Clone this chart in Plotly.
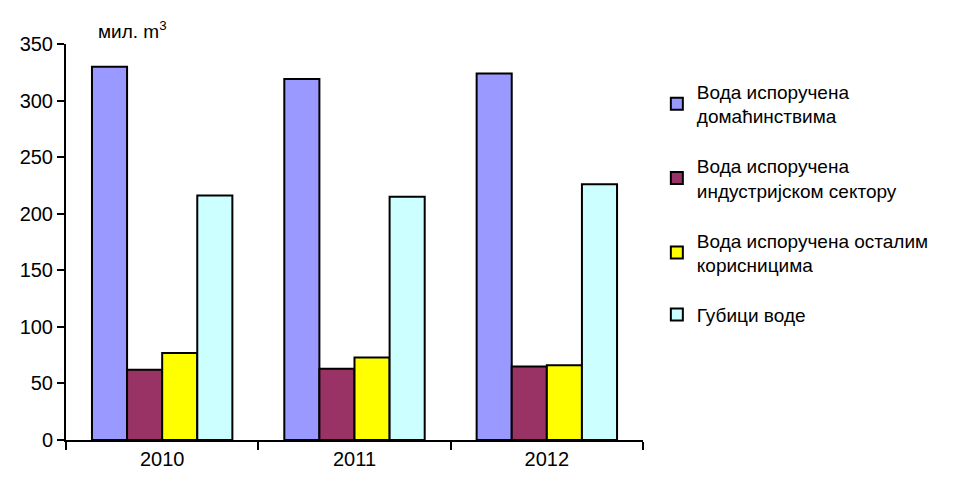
import plotly.graph_objects as go

years = ["2010", "2011", "2012"]
series_names = [
    "Вода испоручена<br>домаћинствима",
    "Вода испоручена<br>индустријском сектору",
    "Вода испоручена осталим<br>корисницима",
    "Губици воде",
]
households = [330, 319, 324]
industry = [62, 63, 65]
other_users = [77, 73, 66]
losses = [216, 215, 226]
colors = ["#9999FF", "#993366", "#FFFF00", "#CCFFFF"]
y_ticks = [0, 50, 100, 150, 200, 250, 300, 350]

font_family = "Liberation Sans, Arial, sans-serif"

fig = go.Figure()
for i, (name, vals) in enumerate(zip(series_names, [households, industry, other_users, losses])):
    fig.add_trace(go.Bar(
        x=years, y=vals, name=name,
        marker=dict(color=colors[i], line=dict(color="black", width=2)),
        legendgroup=f"g{i}",
    ))

fig.update_layout(
    width=950, height=474,
    margin=dict(l=55, r=315, t=36, b=40),
    paper_bgcolor="white", plot_bgcolor="white",
    barmode="group", bargap=0.27, bargroupgap=0,
    font=dict(family=font_family, size=20, color="black"),
    showlegend=True,
    legend=dict(
        x=1.024, y=0.928, xanchor="left", yanchor="top",
        font=dict(size=19), tracegroupgap=22,
        itemsizing="constant",
    ),
    xaxis=dict(
        showline=True, linecolor="black", linewidth=2,
        ticks="outside", tickson="boundaries", ticklen=8, tickwidth=2, tickcolor="black",
        showgrid=False, tickfont=dict(size=20),
    ),
    yaxis=dict(
        range=[0, 350], tickvals=y_ticks,
        showline=True, linecolor="black", linewidth=2,
        ticks="outside", ticklen=7, tickwidth=2, tickcolor="black",
        showgrid=False, zeroline=False, tickfont=dict(size=20),
    ),
    annotations=[dict(
        text="мил. m<sup>3</sup>", xref="paper", yref="paper",
        x=0.052, y=1.0, xanchor="left", yanchor="bottom",
        showarrow=False, font=dict(size=19),
    )],
)

fig.write_html("out.html")
